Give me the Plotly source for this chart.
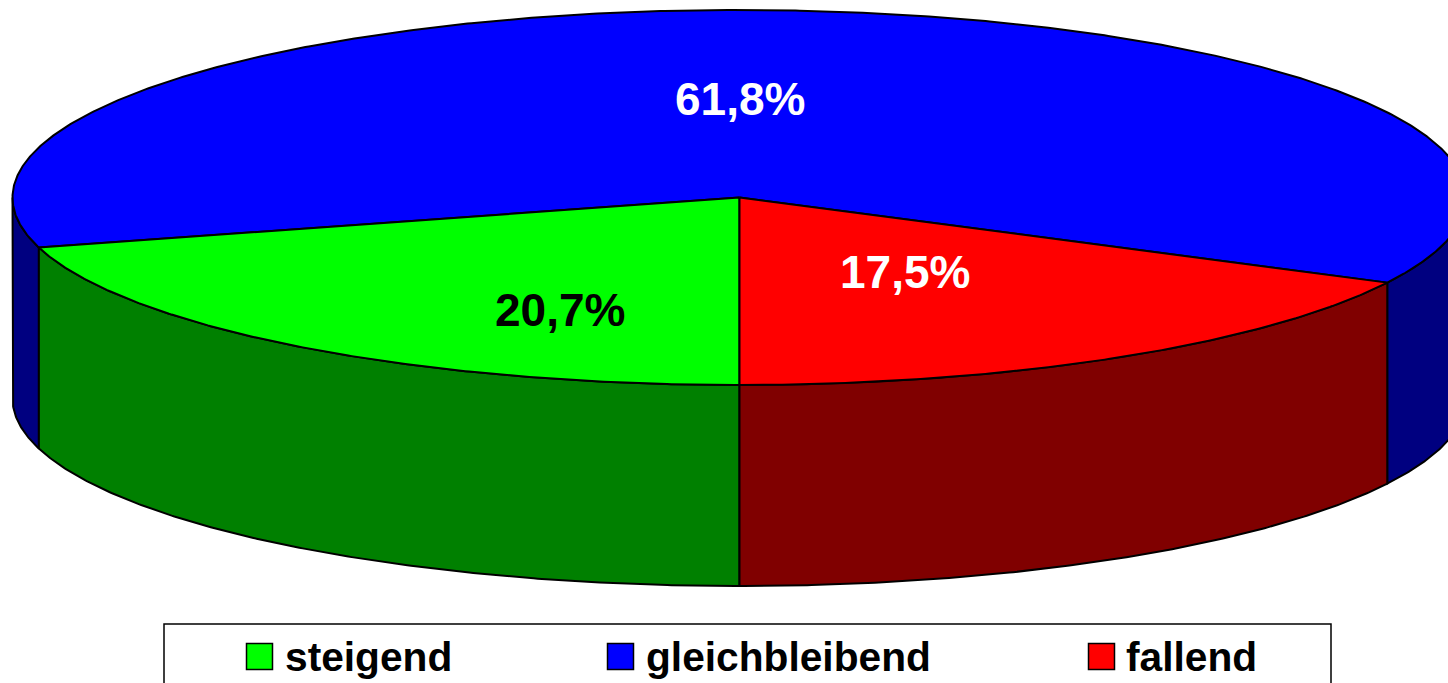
import numpy as np
import plotly.graph_objects as go

categories = ["steigend", "gleichbleibend", "fallend"]
values = [20.7, 61.8, 17.5]
value_labels = ["20,7%", "61,8%", "17,5%"]

top_colors = ["#00ff00", "#0000ff", "#ff0000"]
wall_colors = ["#008000", "#000080", "#800000"]
label_colors = ["#000000", "#ffffff", "#ffffff"]
label_pos = [(560, 310), (740, 99), (905, 272)]
legend_marker_x = [259.5, 620.5, 1101.5]
legend_text_x = [285, 646, 1126]

CX, CY, RX, RY, DEPTH = 739.5, 197.5, 727, 187.5, 201
FONT = "Liberation Sans, Arial, sans-serif"
LINE = dict(color="#000000", width=2)


def rim(a, b, dy=0.0):
    """Ellipse points for angles (deg) measured clockwise from 6 o'clock."""
    t = np.radians(np.linspace(a, b, max(2, int(abs(b - a) * 3))))
    return CX - RX * np.sin(t), CY + RY * np.cos(t) + dy


fig = go.Figure()
edges = np.concatenate([[0], np.cumsum(values) / sum(values) * 360])


def add_poly(x, y, color):
    fig.add_trace(go.Scatter(x=list(x) + [x[0]], y=list(y) + [y[0]], mode="lines",
                             fill="toself", fillcolor=color, line=LINE,
                             hoverinfo="skip", showlegend=False))


def add_wall(a, b, color):
    xt, yt = rim(a, b)
    xb, yb = rim(b, a, DEPTH)
    add_poly(np.r_[xt, xb], np.r_[yt, yb], color)


# side walls: only the front half of the pie (angles outside 90..270) is visible
add_wall(edges[1], 90, wall_colors[1])
add_wall(270, edges[2], wall_colors[1])
add_wall(edges[0], edges[1], wall_colors[0])
add_wall(edges[2], edges[3], wall_colors[2])

# top faces
for i in [1, 0, 2]:
    x, y = rim(edges[i], edges[i + 1])
    add_poly(np.r_[CX, x], np.r_[CY, y], top_colors[i])

# legend swatches
fig.add_trace(go.Scatter(
    x=legend_marker_x, y=[656.5] * 3, mode="markers",
    marker=dict(symbol="square", size=26, color=top_colors, line=dict(color="#000000", width=1.5)),
    hoverinfo="skip", showlegend=False, cliponaxis=False))

annotations = []
for (px, py), text, color in zip(label_pos, value_labels, label_colors):
    annotations.append(dict(x=px, y=py, xref="x", yref="y", text=f"<b>{text}</b>", showarrow=False,
                            xanchor="center", yanchor="middle",
                            font=dict(family=FONT, size=46, color=color)))
for px, text in zip(legend_text_x, categories):
    annotations.append(dict(x=px, y=657, xref="x", yref="y", text=f"<b>{text}</b>", showarrow=False,
                            xanchor="left", yanchor="middle", xshift=-2,
                            font=dict(family=FONT, size=40.7, color="#000000")))

fig.update_layout(
    width=1448, height=683, margin=dict(l=0, r=0, t=0, b=0),
    paper_bgcolor="#ffffff", plot_bgcolor="#ffffff", showlegend=False,
    xaxis=dict(range=[0, 1448], visible=False, fixedrange=True),
    yaxis=dict(range=[683, 0], visible=False, fixedrange=True),
    annotations=annotations,
    shapes=[dict(type="rect", xref="x", yref="y", x0=164, x1=1331, y0=624, y1=700,
                 line=dict(color="#000000", width=1.5), fillcolor="rgba(0,0,0,0)")],
)
fig.write_html("out.html", config={"displayModeBar": False},
               post_script="document.body.style.margin='0';document.body.style.overflow='hidden';")
